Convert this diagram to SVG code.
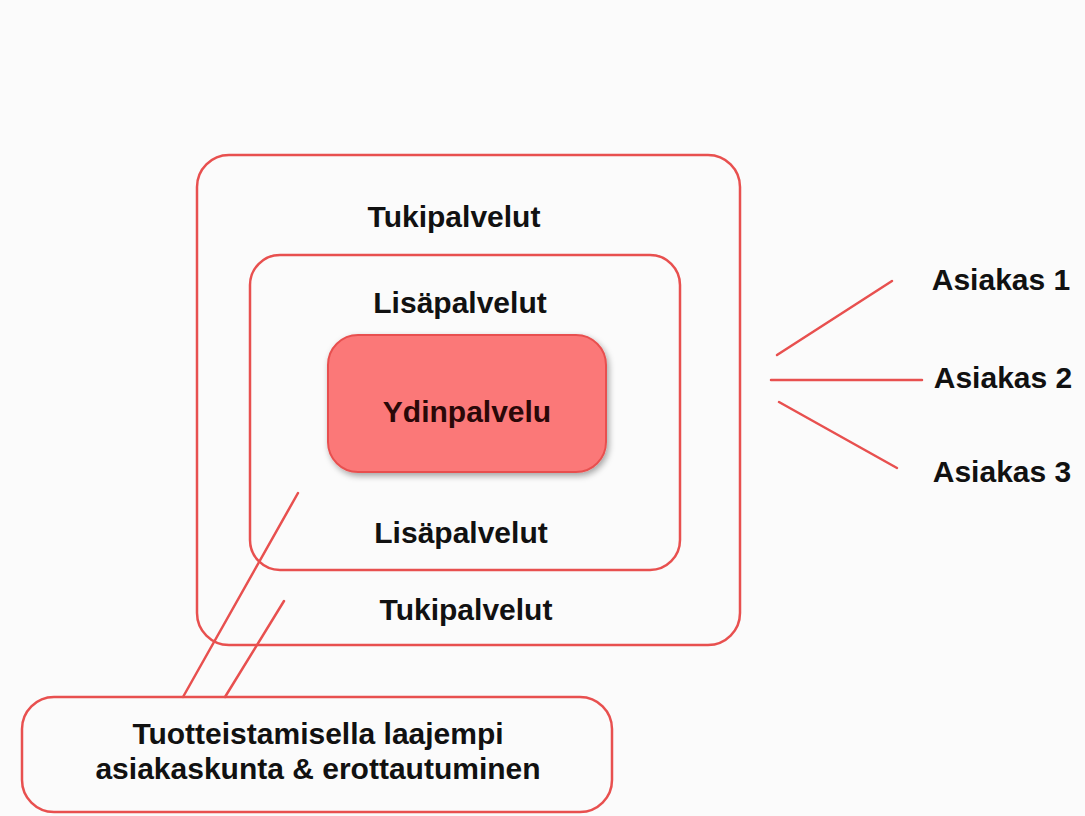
<svg xmlns="http://www.w3.org/2000/svg" width="1085" height="816" viewBox="0 0 1085 816">
<defs>
<style>
.box{fill:none;stroke:#e8504f;stroke-width:2.5}
.ln{stroke:#e8504f;stroke-width:2.5;fill:none;stroke-linecap:round}
.t{font-family:"Liberation Sans",Arial,sans-serif;font-weight:bold;font-size:30px;fill:#111;text-anchor:middle}
</style>
<filter id="sh" x="-10%" y="-10%" width="125%" height="130%">
<feDropShadow dx="2" dy="3" stdDeviation="3" flood-color="#000" flood-opacity="0.35"/>
</filter>
</defs>
<rect width="1085" height="816" fill="#fbfbfb"/>
<g id="outer">
<rect class="box" x="197" y="155" width="543" height="490" rx="32"/>
<text class="t" x="454" y="227">Tukipalvelut</text>
<text class="t" x="466" y="620">Tukipalvelut</text>
</g>
<g id="inner">
<rect class="box" x="250" y="255" width="430" height="315" rx="30"/>
<text class="t" x="460" y="313">Lisäpalvelut</text>
<text class="t" x="461" y="543">Lisäpalvelut</text>
</g>
<g id="core">
<rect x="328" y="335" width="278" height="137" rx="30" fill="#fb7878" stroke="#e8504f" stroke-width="2" filter="url(#sh)"/>
<text class="t" x="467" y="422" style="fill:#2a0808">Ydinpalvelu</text>
</g>
<g id="asiakas1"><text class="t" x="1001" y="290">Asiakas 1</text></g>
<g id="asiakas2"><text class="t" x="1003" y="388">Asiakas 2</text></g>
<g id="asiakas3"><text class="t" x="1002" y="482">Asiakas 3</text></g>
<g id="bottom">
<rect class="box" x="22" y="697" width="590" height="115" rx="32"/>
<text class="t" x="318" y="744">Tuotteistamisella laajempi</text>
<text class="t" x="318" y="779">asiakaskunta &amp; erottautuminen</text>
</g>
<g id="connectors">
<line class="ln" x1="777" y1="355" x2="892" y2="281"/>
<line class="ln" x1="771" y1="380" x2="922" y2="380"/>
<line class="ln" x1="779" y1="402" x2="897" y2="468"/>
<line class="ln" x1="298" y1="493" x2="183" y2="697"/>
<line class="ln" x1="284" y1="601" x2="225" y2="697"/>
</g>
</svg>
